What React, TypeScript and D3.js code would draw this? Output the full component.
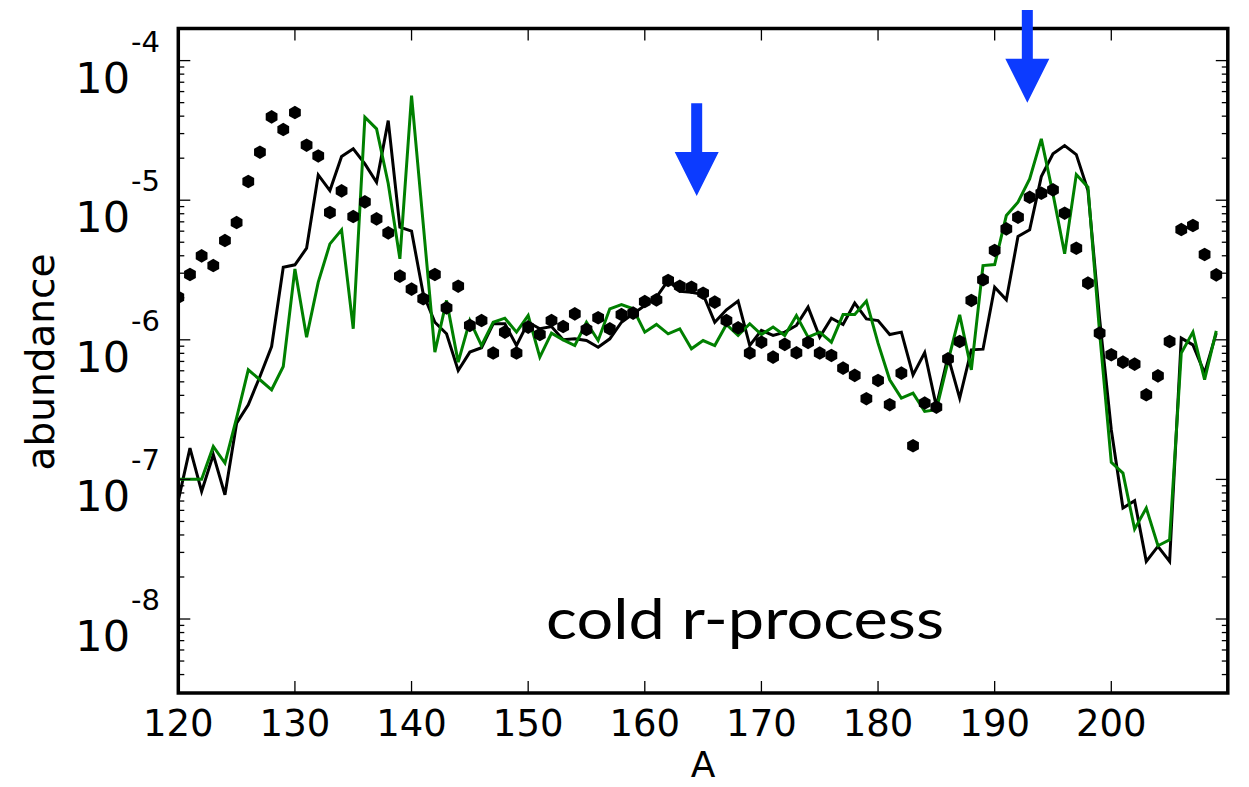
import React from "react";
import * as d3 from "d3";

// Mass numbers A = 120 ... 209
const massNumbers: number[] = d3.range(120, 210);

// log10 abundance, solar r-process (black hexagons)
const solarLog: number[] = [
  -5.695, -5.532, -5.399, -5.468, -5.289, -5.160, -4.866, -4.656, -4.403, -4.494,
  -4.372, -4.606, -4.683, -5.088, -4.933, -5.117, -5.012, -5.134, -5.234, -5.544,
  -5.637, -5.706, -5.532, -5.771, -5.616, -5.897, -5.862, -6.095, -5.945, -6.095,
  -5.909, -5.962, -5.862, -5.905, -5.814, -5.926, -5.842, -5.921, -5.819, -5.809,
  -5.726, -5.714, -5.575, -5.616, -5.623, -5.666, -5.730, -5.862, -5.914, -6.095,
  -6.017, -6.124, -6.033, -6.093, -6.019, -6.095, -6.112, -6.203, -6.255, -6.422,
  -6.291, -6.465, -6.239, -6.759, -6.453, -6.482, -6.136, -6.012, -5.718, -5.570,
  -5.360, -5.205, -5.122, -4.979, -4.950, -4.926, -5.093, -5.344, -5.594, -5.952,
  -6.107, -6.160, -6.174, -6.394, -6.258, -6.012, -5.210, -5.181, -5.389, -5.535,
];

// log10 abundance, model 1 (black line)
const blackLog: number[] = [
  -7.150, -6.776, -7.086, -6.823, -7.110, -6.597, -6.465, -6.263, -6.048, -5.480,
  -5.463, -5.344, -4.819, -4.931, -4.687, -4.632, -4.740, -4.871, -4.430, -5.193,
  -5.222, -5.671, -5.874, -5.957, -6.220, -6.088, -6.057, -5.885, -5.885, -6.041,
  -5.874, -5.921, -5.905, -6.000, -5.993, -6.005, -6.053, -5.993, -5.874, -5.814,
  -5.754, -5.694, -5.575, -5.652, -5.659, -5.675, -5.874, -5.785, -5.723, -6.041,
  -5.933, -5.969, -5.945, -5.897, -5.766, -5.981, -5.845, -5.890, -5.737, -5.850,
  -5.862, -5.962, -5.945, -6.251, -6.091, -6.477, -6.119, -6.418, -6.072, -6.067,
  -5.623, -5.714, -5.260, -5.212, -4.831, -4.668, -4.609, -4.673, -4.931, -5.850,
  -6.644, -7.205, -7.153, -7.587, -7.480, -7.587, -5.988, -6.036, -6.239, -5.952,
];

// log10 abundance, model 2 (green line)
const greenLog: number[] = [
  -6.998, -6.998, -6.998, -6.764, -6.883, -6.560, -6.215, -6.286, -6.358, -6.191,
  -5.492, -5.981, -5.587, -5.313, -5.212, -5.921, -4.406, -4.489, -4.880, -5.420,
  -4.251, -5.170, -6.088, -5.718, -6.160, -5.862, -6.041, -5.874, -5.845, -5.945,
  -5.826, -6.124, -5.952, -6.000, -6.041, -5.874, -6.005, -5.778, -5.747, -5.778,
  -5.945, -5.890, -5.957, -5.921, -6.064, -6.005, -6.041, -5.890, -5.969, -5.885,
  -5.962, -5.909, -5.969, -5.826, -5.981, -5.945, -6.017, -5.819, -5.819, -5.723,
  -6.024, -6.286, -6.418, -6.382, -6.513, -6.501, -6.155, -5.821, -6.215, -5.468,
  -5.461, -5.110, -5.014, -4.847, -4.561, -4.955, -5.384, -4.816, -4.907, -5.950,
  -6.878, -6.955, -7.356, -7.205, -7.475, -7.432, -6.095, -5.945, -6.286, -5.936,
];

const xTicks: number[] = [120, 130, 140, 150, 160, 170, 180, 190, 200];
const yTickExps: number[] = [-4, -5, -6, -7, -8];

// annotation arrows: A position, tail and tip (log10 abundance)
const arrowA: number[] = [164.45, 192.8];
const arrowTailLog: number[] = [-4.306, -3.638];
const arrowTipLog: number[] = [-4.97, -4.302];

const W = 1249;
const H = 787;
const L = 178.3, R = 1227.8, T = 28.5, B = 693;

export default function App() {
  const x = d3.scaleLinear().domain([120, 209.99]).range([L, R]);
  const y = d3.scaleLog().domain([Math.pow(10, -8.53), Math.pow(10, -3.77)]).range([B, T]);

  const line = d3
    .line<[number, number]>()
    .x((d) => x(d[0]))
    .y((d) => y(Math.pow(10, d[1])));

  const blackPts: [number, number][] = massNumbers.map((a, i) => [a, blackLog[i]]);
  const greenPts: [number, number][] = massNumbers.map((a, i) => [a, greenLog[i]]);

  const r = 6.8;
  const hex = d3.range(6).map((k) => {
    const ang = -Math.PI / 2 + (k * Math.PI) / 3;
    return [r * Math.cos(ang), r * Math.sin(ang)];
  });
  const hexPath = "M" + hex.map((p) => p[0].toFixed(2) + "," + p[1].toFixed(2)).join("L") + "Z";

  // minor y ticks
  const minor: number[] = [];
  for (let e = -9; e <= -4; e++) {
    for (let m = 2; m <= 9; m++) {
      const v = m * Math.pow(10, e);
      const py = y(v);
      if (py > T + 1 && py < B - 1) minor.push(py);
    }
  }

  const font = "DejaVu Sans";
  const blue = "#0c3bff";

  const arrows = arrowA.map((a, i) => {
    const cx = x(a);
    const yTail = y(Math.pow(10, arrowTailLog[i]));
    const yTip = y(Math.pow(10, arrowTipLog[i]));
    const headLen = 44;
    const headHalf = 22;
    const shaftHalf = 5.5;
    const yb = yTip - headLen;
    const pts = [
      [cx - shaftHalf, yTail],
      [cx + shaftHalf, yTail],
      [cx + shaftHalf, yb],
      [cx + headHalf, yb],
      [cx, yTip],
      [cx - headHalf, yb],
      [cx - shaftHalf, yb],
    ];
    return "M" + pts.map((p) => p[0] + "," + p[1]).join("L") + "Z";
  });

  return (
    <svg
      width={W}
      height={H}
      style={{ position: "absolute", left: 0, top: 0, background: "#fff" }}
    >
      <defs>
        <clipPath id="plotclip">
          <rect x={L} y={T} width={R - L} height={B - T} />
        </clipPath>
      </defs>
      <rect x={0} y={0} width={W} height={H} fill="#fff" />
      <g clipPath="url(#plotclip)">
        <path d={line(blackPts) || ""} fill="none" stroke="#000" strokeWidth={3} strokeLinejoin="miter" />
        <path d={line(greenPts) || ""} fill="none" stroke="#008000" strokeWidth={3} strokeLinejoin="miter" />
        {massNumbers.map((a, i) => (
          <path key={a} d={hexPath} transform={`translate(${x(a)},${y(Math.pow(10, solarLog[i]))})`} fill="#000" />
        ))}
      </g>

      {/* ticks */}
      <g stroke="#000" strokeWidth={1.3}>
        {xTicks.map((t) => (
          <g key={t}>
            <line x1={x(t)} x2={x(t)} y1={B} y2={B - 12} />
            <line x1={x(t)} x2={x(t)} y1={T} y2={T + 12} />
          </g>
        ))}
        {yTickExps.map((e) => (
          <g key={e}>
            <line x1={L} x2={L + 12} y1={y(Math.pow(10, e))} y2={y(Math.pow(10, e))} />
            <line x1={R} x2={R - 12} y1={y(Math.pow(10, e))} y2={y(Math.pow(10, e))} />
          </g>
        ))}
        {minor.map((py, i) => (
          <g key={i}>
            <line x1={L} x2={L + 6} y1={py} y2={py} />
            <line x1={R} x2={R - 6} y1={py} y2={py} />
          </g>
        ))}
      </g>
      <rect x={L} y={T} width={R - L} height={B - T} fill="none" stroke="#000" strokeWidth={3.5} />

      {/* x tick labels */}
      {xTicks.map((t) => (
        <text key={t} x={x(t)} y={736} fontFamily={font} fontSize={37} textAnchor="middle" fill="#000">
          {t}
        </text>
      ))}
      {/* y tick labels */}
      {yTickExps.map((e) => {
        const py = y(Math.pow(10, e));
        return (
          <g key={e}>
            <text x={130} y={py + 32} fontFamily={font} fontSize={43} textAnchor="end" fill="#000">
              10
            </text>
            <text x={131} y={py - 9} fontFamily={font} fontSize={29} textAnchor="start" fill="#000">
              {"-" + Math.abs(e)}
            </text>
          </g>
        );
      })}

      <text x={(L + R) / 2} y={777} fontFamily={font} fontSize={36} textAnchor="middle" fill="#000">
        A
      </text>
      <text
        transform={`translate(54,362) rotate(-90)`}
        fontFamily={font}
        fontSize={39}
        textAnchor="middle"
        fill="#000"
      >
        abundance
      </text>

      <text x={546} y={639} fontFamily="Lato" fontSize={57} fill="#000" textLength={398} lengthAdjust="spacingAndGlyphs">
        cold r-process
      </text>

      {arrows.map((d, i) => (
        <path key={i} d={d} fill={blue} />
      ))}
    </svg>
  );
}
